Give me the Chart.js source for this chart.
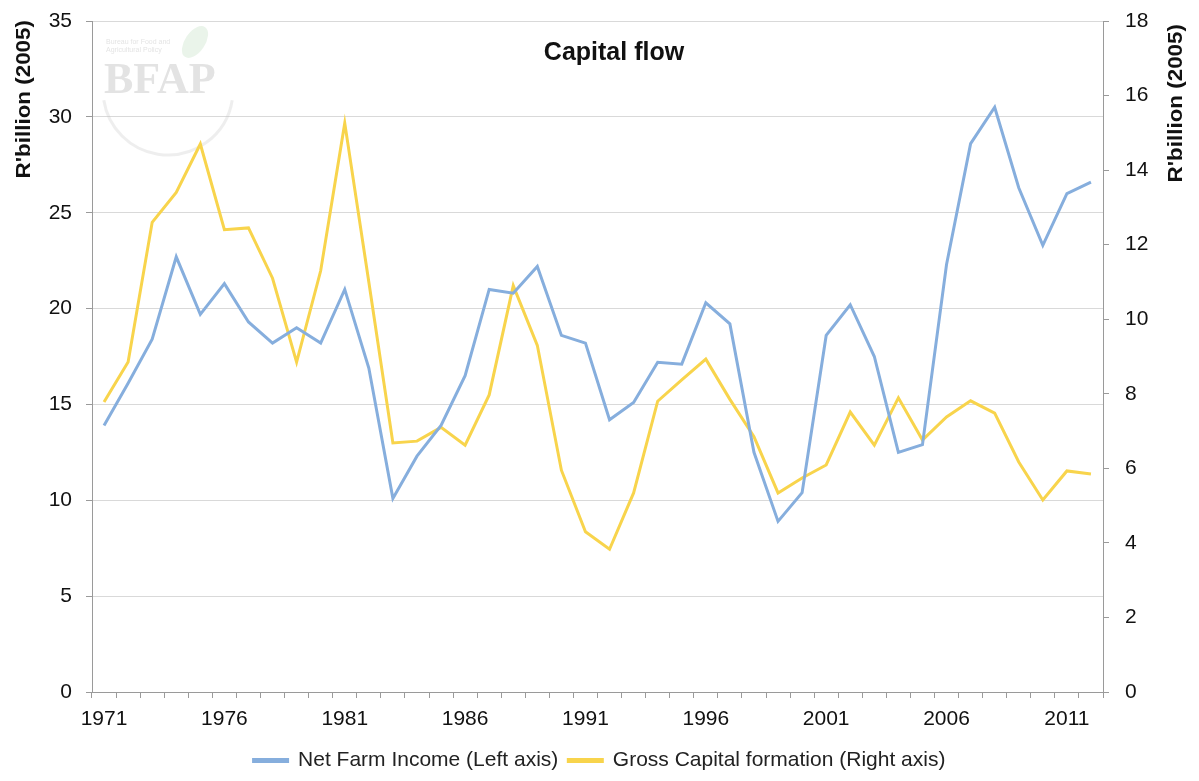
<!DOCTYPE html>
<html>
<head>
<meta charset="utf-8">
<script src="https://cdn.jsdelivr.net/npm/chart.js@4/dist/chart.umd.min.js"></script>
<style>
  html, body { margin: 0; padding: 0; background: #fff; }
  #wrap { width: 1199px; height: 781px; }
</style>
</head>
<body>
<div id="wrap"><canvas id="c" width="1199" height="781"></canvas></div>
<script>
// years 1971..2012
const years = ["1971","1972","1973","1974","1975","1976","1977","1978","1979","1980",
  "1981","1982","1983","1984","1985","1986","1987","1988","1989","1990",
  "1991","1992","1993","1994","1995","1996","1997","1998","1999","2000",
  "2001","2002","2003","2004","2005","2006","2007","2008","2009","2010",
  "2011","2012"];

// Net Farm Income, R'billion (2005), left axis
const netFarmIncome = [13.9, 16.1, 18.4, 22.7, 19.7, 21.3, 19.3, 18.2, 19.0, 18.2,
  21.0, 16.9, 10.1, 12.3, 13.9, 16.5, 21.0, 20.8, 22.2, 18.6,
  18.2, 14.2, 15.1, 17.2, 17.1, 20.3, 19.2, 12.5, 8.9, 10.4,
  18.6, 20.2, 17.5, 12.5, 12.9, 22.3, 28.6, 30.5, 26.3, 23.3,
  26.0, 26.6];

// Gross Capital formation, R'billion (2005), right axis
const grossCapital = [7.78, 8.85, 12.6, 13.4, 14.7, 12.4, 12.45, 11.1, 8.85, 11.3,
  15.26, 11.0, 6.68, 6.73, 7.1, 6.62, 7.97, 10.9, 9.3, 5.95,
  4.3, 3.83, 5.34, 7.8, 8.37, 8.93, 7.85, 6.85, 5.34, 5.74,
  6.09, 7.51, 6.62, 7.89, 6.76, 7.38, 7.81, 7.48, 6.17, 5.15,
  5.93, 5.85];

const leftTicks = { min: 0, max: 35, step: 5 };
const rightTicks = { min: 0, max: 18, step: 2 };

const FONT = "'Liberation Sans', Arial, sans-serif";
const BLUE = "#86aedd";
const YELLOW = "#f8d44c";
const AXIS = "#9a9a9a";
const GRID = "#d9d9d9";

// title, axis titles and watermark drawn by hand (Excel-like placement)
const extras = {
  id: "extras",
  beforeDatasetsDraw(chart) {
    const ctx = chart.ctx;
    ctx.save();
    // faint logo watermark
    ctx.fillStyle = "rgba(185,185,185,0.4)";
    ctx.font = "bold 44px 'Liberation Serif', serif";
    ctx.textAlign = "left";
    ctx.textBaseline = "alphabetic";
    ctx.fillText("BFAP", 104, 93);
    ctx.font = "7px " + FONT;
    ctx.fillText("Bureau for Food and", 106, 44);
    ctx.fillText("Agricultural Policy", 106, 52);
    ctx.strokeStyle = "rgba(200,200,200,0.3)";
    ctx.lineWidth = 3;
    ctx.beginPath();
    ctx.arc(168, 90, 65, 0.05 * Math.PI, 0.95 * Math.PI);
    ctx.stroke();
    ctx.fillStyle = "rgba(150,200,150,0.2)";
    ctx.beginPath();
    ctx.ellipse(195, 42, 10, 18, 0.6, 0, Math.PI * 2);
    ctx.fill();
    ctx.restore();
  },
  afterDraw(chart) {
    const ctx = chart.ctx;
    ctx.save();
    ctx.fillStyle = "#111";
    ctx.font = "bold 25px " + FONT;
    ctx.textAlign = "center";
    ctx.textBaseline = "middle";
    ctx.fillText("Capital flow", 614, 53);
    ctx.restore();

    // both axis titles read bottom-to-top, top-aligned
    [[24, 20], [1176, 24]].forEach(([x, y]) => {
      ctx.save();
      ctx.fillStyle = "#111";
      ctx.font = "bold 20px " + FONT;
      ctx.textAlign = "right";
      ctx.textBaseline = "middle";
      ctx.translate(x, y);
      ctx.rotate(-Math.PI / 2);
      ctx.scale(1.12, 1);
      ctx.fillText("R'billion (2005)", 0, 0);
      ctx.restore();
    });
  }
};

// fixed axis widths, no extra label overflow padding
const fitY = (w) => (s) => {
  s.width = w;
  s.paddingTop = 0;
  s.paddingBottom = 0;
};

const chart = new Chart(document.getElementById("c"), {
  type: "line",
  data: {
    labels: years,
    datasets: [
      {
        label: "Net Farm Income (Left axis)",
        data: netFarmIncome,
        yAxisID: "yL",
        borderColor: BLUE,
        backgroundColor: BLUE,
        borderWidth: 3,
        pointRadius: 0,
        tension: 0,
      },
      {
        label: "Gross Capital formation (Right axis)",
        data: grossCapital,
        yAxisID: "yR",
        borderColor: YELLOW,
        backgroundColor: YELLOW,
        borderWidth: 3,
        pointRadius: 0,
        tension: 0,
      },
    ],
  },
  options: {
    responsive: false,
    animation: false,
    layout: { padding: { top: 21, bottom: 0, left: 0, right: 0 } },
    plugins: {
      legend: {
        position: "bottom",
        labels: {
          font: { family: FONT, size: 21 },
          color: "#222",
          boxWidth: 34,
          boxHeight: 2,
          padding: 10,
        },
      },
      tooltip: { enabled: false },
    },
    scales: {
      x: {
        offset: true,
        afterFit: (s) => { s.height = 48; },
        grid: { offset: true, drawOnChartArea: false, tickLength: 6, color: AXIS },
        border: { color: AXIS },
        ticks: {
          autoSkip: false,
          maxRotation: 0,
          font: { family: FONT, size: 21 },
          color: "#111",
          padding: 9,
          callback: (v, i) => (i % 5 === 0 ? years[i] : ""),
        },
      },
      yL: {
        position: "left",
        min: leftTicks.min,
        max: leftTicks.max,
        afterFit: fitY(92),
        grid: { color: GRID, tickColor: AXIS, tickLength: 6 },
        border: { color: AXIS },
        ticks: {
          stepSize: leftTicks.step,
          font: { family: FONT, size: 21 },
          color: "#111",
          padding: 14,
        },
      },
      yR: {
        position: "right",
        min: rightTicks.min,
        max: rightTicks.max,
        afterFit: fitY(96),
        grid: { drawOnChartArea: false, tickColor: AXIS, tickLength: 6 },
        border: { color: AXIS },
        ticks: {
          stepSize: rightTicks.step,
          font: { family: FONT, size: 21 },
          color: "#111",
          padding: 16,
        },
      },
    },
  },
  plugins: [extras],
});
</script>
</body>
</html>
